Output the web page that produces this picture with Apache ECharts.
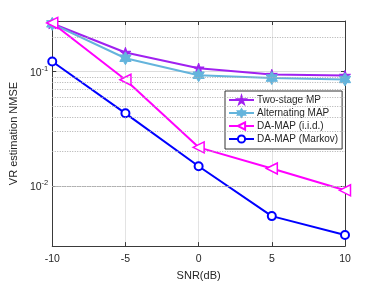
<!DOCTYPE html>
<html><head><meta charset="utf-8">
<script src="https://cdn.jsdelivr.net/npm/echarts@6/dist/echarts.min.js"></script>
<style>html,body{margin:0;padding:0;background:#fff}#c{width:382px;height:286px}</style>
</head><body><div id="c"></div>
<script>
const snr = [-10, -5, 0, 5, 10];
const twoStageMP = [0.264, 0.147, 0.107, 0.0942, 0.0924];
const alternatingMAP = [0.262, 0.131, 0.093, 0.0878, 0.0854];
const daMapIid = [0.267, 0.0849, 0.0217, 0.01416, 0.00912];
const daMapMarkov = [0.1227, 0.0431, 0.01483, 0.00542, 0.0037];
const seriesNames = ['Two-stage MP', 'Alternating MAP', 'DA-MAP (i.i.d.)', 'DA-MAP (Markov)'];
const minorGrid = [0.003, 0.004, 0.005, 0.006, 0.007, 0.008, 0.009, 0.02, 0.03, 0.04, 0.05, 0.06, 0.07, 0.08, 0.09, 0.2];
const yMin = 0.00296, yMax = 0.2776;

const star5 = 'path://M100,0 L122.45,69.1 L195.1,69.1 L136.3,111.8 L158.8,180.9 L100,138.2 L41.2,180.9 L63.7,111.8 L4.9,69.1 L77.55,69.1 Z';
const star6 = 'path://M100,0 L128.87,50 L186.6,50 L157.7,100 L186.6,150 L128.87,150 L100,200 L71.13,150 L13.4,150 L42.3,100 L13.4,50 L71.13,50 Z';

const font = 'Liberation Sans, Arial, sans-serif';
const txt = '#262626';
const axisCol = '#3a3a3a';

function pairs(vals){ return snr.map((x,i)=>[x, vals[i]]); }
function isPow10(v){ const l = Math.log10(v); return Math.abs(l - Math.round(l)) < 1e-6; }

const chart = echarts.init(document.getElementById('c'), null, {renderer:'canvas'});
chart.setOption({
  animation: false,
  backgroundColor: '#fff',
  grid: {left: 49, top: 21, right: 37, bottom: 35},
  legend: {
    orient: 'vertical', left: 225, top: 91,
    backgroundColor: '#fff', borderColor: '#333', borderWidth: 1, borderRadius: 0,
    padding: [4, 4, 5, 3], itemGap: 3, itemWidth: 25, itemHeight: 9,
    textStyle: {fontFamily: font, fontSize: 10, color: txt, padding: [0,0,0,-2]},
    data: seriesNames
  },
  xAxis: [{
    type: 'value', min: -10, max: 10, interval: 5,
    name: 'SNR(dB)', nameLocation: 'middle', nameGap: 19,
    nameTextStyle: {fontFamily: font, fontSize: 11, color: txt},
    axisLine: {show: true, onZero: false, lineStyle: {color: axisCol, width: 1}},
    axisTick: {show: true, inside: true, length: 4, lineStyle: {color: axisCol}},
    axisLabel: {fontFamily: font, fontSize: 10.5, color: txt, margin: 8},
    splitLine: {show: true, lineStyle: {color: '#e3e3e3', width: 1}}
  }, {
    type: 'value', position: 'top', min: -10, max: 10, interval: 5,
    axisLine: {show: true, onZero: false, lineStyle: {color: axisCol, width: 1}},
    axisTick: {show: true, inside: true, length: 4, lineStyle: {color: axisCol}},
    axisLabel: {show: false}, splitLine: {show: false}
  }],
  yAxis: [{
    type: 'log', logBase: 10, min: yMin, max: yMax,
    name: 'VR estimation NMSE', nameLocation: 'middle', nameGap: 29,
    nameTextStyle: {fontFamily: font, fontSize: 11, color: txt},
    axisLine: {show: true, onZero: false, lineStyle: {color: axisCol, width: 1}},
    axisTick: {show: true, inside: true, length: 4, lineStyle: {color: axisCol}},
    axisLabel: {
      fontFamily: font, color: txt, margin: 4, showMinLabel: false, showMaxLabel: false,
      formatter: function(v){ if(!isPow10(v)) return ''; return '{b|10}{s|' + Math.round(Math.log10(v)) + '}'; },
      rich: {b: {fontSize: 10.5, fontFamily: font, color: txt, verticalAlign: 'bottom', lineHeight: 14},
             s: {fontSize: 7.5, fontFamily: font, color: txt, verticalAlign: 'top', lineHeight: 14}}
    },
    splitLine: {show: true, lineStyle: {color: '#dcdcdc', width: 1}}
  }, {
    type: 'log', logBase: 10, min: yMin, max: yMax, position: 'right',
    axisLine: {show: true, onZero: false, lineStyle: {color: axisCol, width: 1}},
    axisTick: {show: true, inside: true, length: 4, lineStyle: {color: axisCol}},
    axisLabel: {show: false}, splitLine: {show: false}
  }],
  series: [
    {type: 'line', name: '_grid', data: [], z: 1, silent: true,
     markLine: {silent: true, symbol: ['none','none'], label: {show: false},
       lineStyle: {color: '#aeaeae', width: 1, type: [1, 1.5]},
       data: minorGrid.map(v => ({yAxis: v}))}},
    {type: 'line', name: seriesNames[0], data: pairs(twoStageMP), color: '#a020f0',
     lineStyle: {width: 2, color: '#a020f0'}, symbol: star5, symbolSize: 11, symbolKeepAspect: true,
     itemStyle: {color: '#a020f0', borderColor: '#a020f0', borderWidth: 1}},
    {type: 'line', name: seriesNames[1], data: pairs(alternatingMAP), color: '#64b4dc',
     lineStyle: {width: 2, color: '#64b4dc'}, symbol: star6, symbolSize: 13, symbolKeepAspect: true,
     itemStyle: {color: '#64b4dc', borderColor: '#64b4dc', borderWidth: 1}},
    {type: 'line', name: seriesNames[2], data: pairs(daMapIid), color: '#ff00ff',
     lineStyle: {width: 2, color: '#ff00ff'}, symbol: 'triangle', symbolRotate: 90, symbolSize: 11,
     itemStyle: {color: '#fff', borderColor: '#ff00ff', borderWidth: 1.5}},
    {type: 'line', name: seriesNames[3], data: pairs(daMapMarkov), color: '#0000ff',
     lineStyle: {width: 2, color: '#0000ff'}, symbol: 'emptyCircle', symbolSize: 8,
     itemStyle: {color: '#0000ff', borderColor: '#0000ff', borderWidth: 1.5}}
  ]
});
</script></body></html>
